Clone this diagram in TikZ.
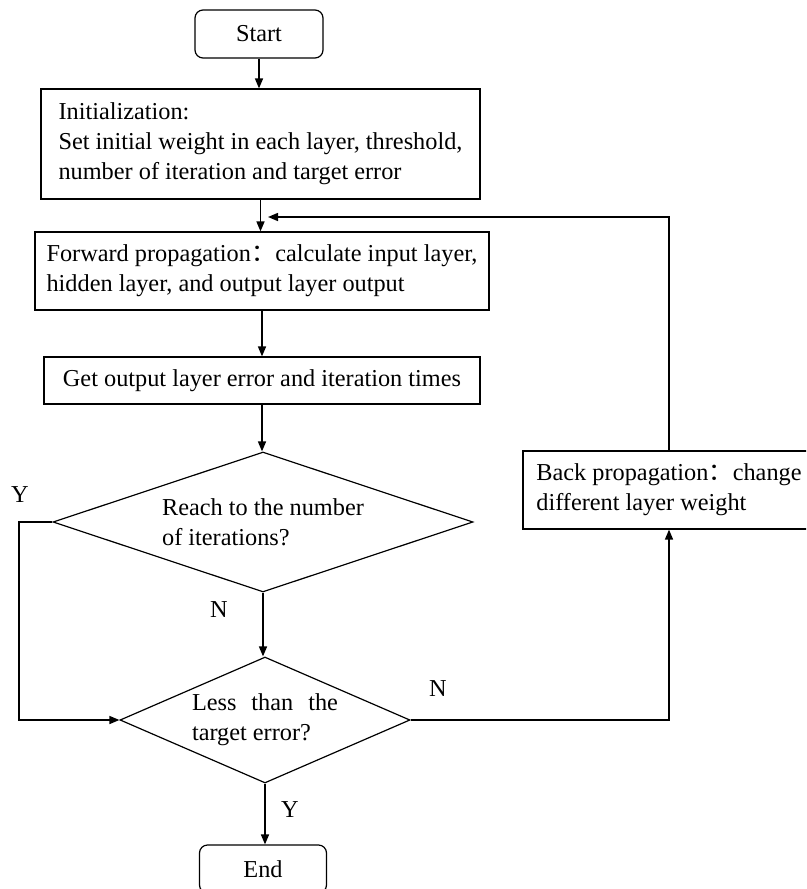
\documentclass[tikz,border=0pt]{standalone}
\usepackage{fontspec}
\setmainfont{Liberation Serif}
\newfontfamily\cjk{Noto Sans CJK SC}
\usetikzlibrary{shapes.geometric,arrows.meta}
\newcommand{\fwcolon}{{\cjk ：}}
\begin{document}
\begin{tikzpicture}[x=1pt, y=-1pt,
    every node/.style={font=\fontsize{24.3}{30}\selectfont},
    box/.style={draw, line width=1.2pt, rectangle, align=left, inner sep=0pt},
    term/.style={draw, line width=1.2pt, rounded corners=8pt, minimum width=128pt, minimum height=48pt, inner sep=0pt},
    decision/.style={draw, line width=1.2pt, diamond, inner sep=0pt, align=left},
    arr/.style={-{Triangle[length=10pt,width=8pt]}, line width=1.5pt},
    link/.style={line width=1.3pt}]
    \useasboundingbox (0,0) rectangle (806,889);
    \clip (0,0) rectangle (806,889);

    % Start and initialization
    \node[term] (start) at (259,34) {Start};
    \node[box, minimum width=439pt, minimum height=110pt] (init) at (260.5,144)
        {Initialization:\\Set initial weight in each layer, threshold,\\number of iteration and target error};

    % Forward pass and error
    \node[box, minimum width=454pt, minimum height=78pt] (fwd) at (262,271)
        {Forward propagation\fwcolon calculate input layer,\\hidden layer, and output layer output};
    \node[box, minimum width=436pt, minimum height=47pt] (geterr) at (262,380.5)
        {Get output layer error and iteration times};

    % Two decisions
    \node[decision, aspect=3, minimum width=420pt, minimum height=140pt] (reach) at (263,522)
        {Reach to the number\\of iterations?};
    \node[decision, aspect=2.3, minimum width=290pt, minimum height=126pt] (less) at (265,720)
        {\makebox[146pt][s]{Less than the}\\target error?};

    % Back propagation (runs past the right edge)
    \node[box, minimum width=292pt, minimum height=78pt] (back) at (669,490)
        {Back propagation\fwcolon change\\different layer weight};

    \node[term, minimum width=127pt] (stop) at (263,869) {End};

    % Branch labels
    \node (yes1) at (20,495) {Y};
    \node (no1) at (219,610) {N};
    \node (no2) at (438,689) {N};
    \node (yes2) at (290,810) {Y};

    \coordinate (fb) at (268,217);
    \coordinate (lp) at (19,522);

    % Main flow
    \draw[arr] (start.south) -- (start.south |- init.north);
    \draw[arr] (init.south) -- (init.south |- fwd.north);
    \draw[arr] (fwd.south) -- (fwd.south |- geterr.north);
    \draw[arr] (geterr.south) -- (geterr.south |- reach.north);
    \draw[arr] (reach.south) -- (reach.south |- less.north);
    \draw[arr] (less.south) -- (less.south |- stop.north);

    % Loops
    \draw[arr] (reach.west) -- (lp) |- (less.west);
    \draw[arr] (less.east) -| (back.south);
    \draw[arr] (back.north) |- (fb);
\end{tikzpicture}
\end{document}
